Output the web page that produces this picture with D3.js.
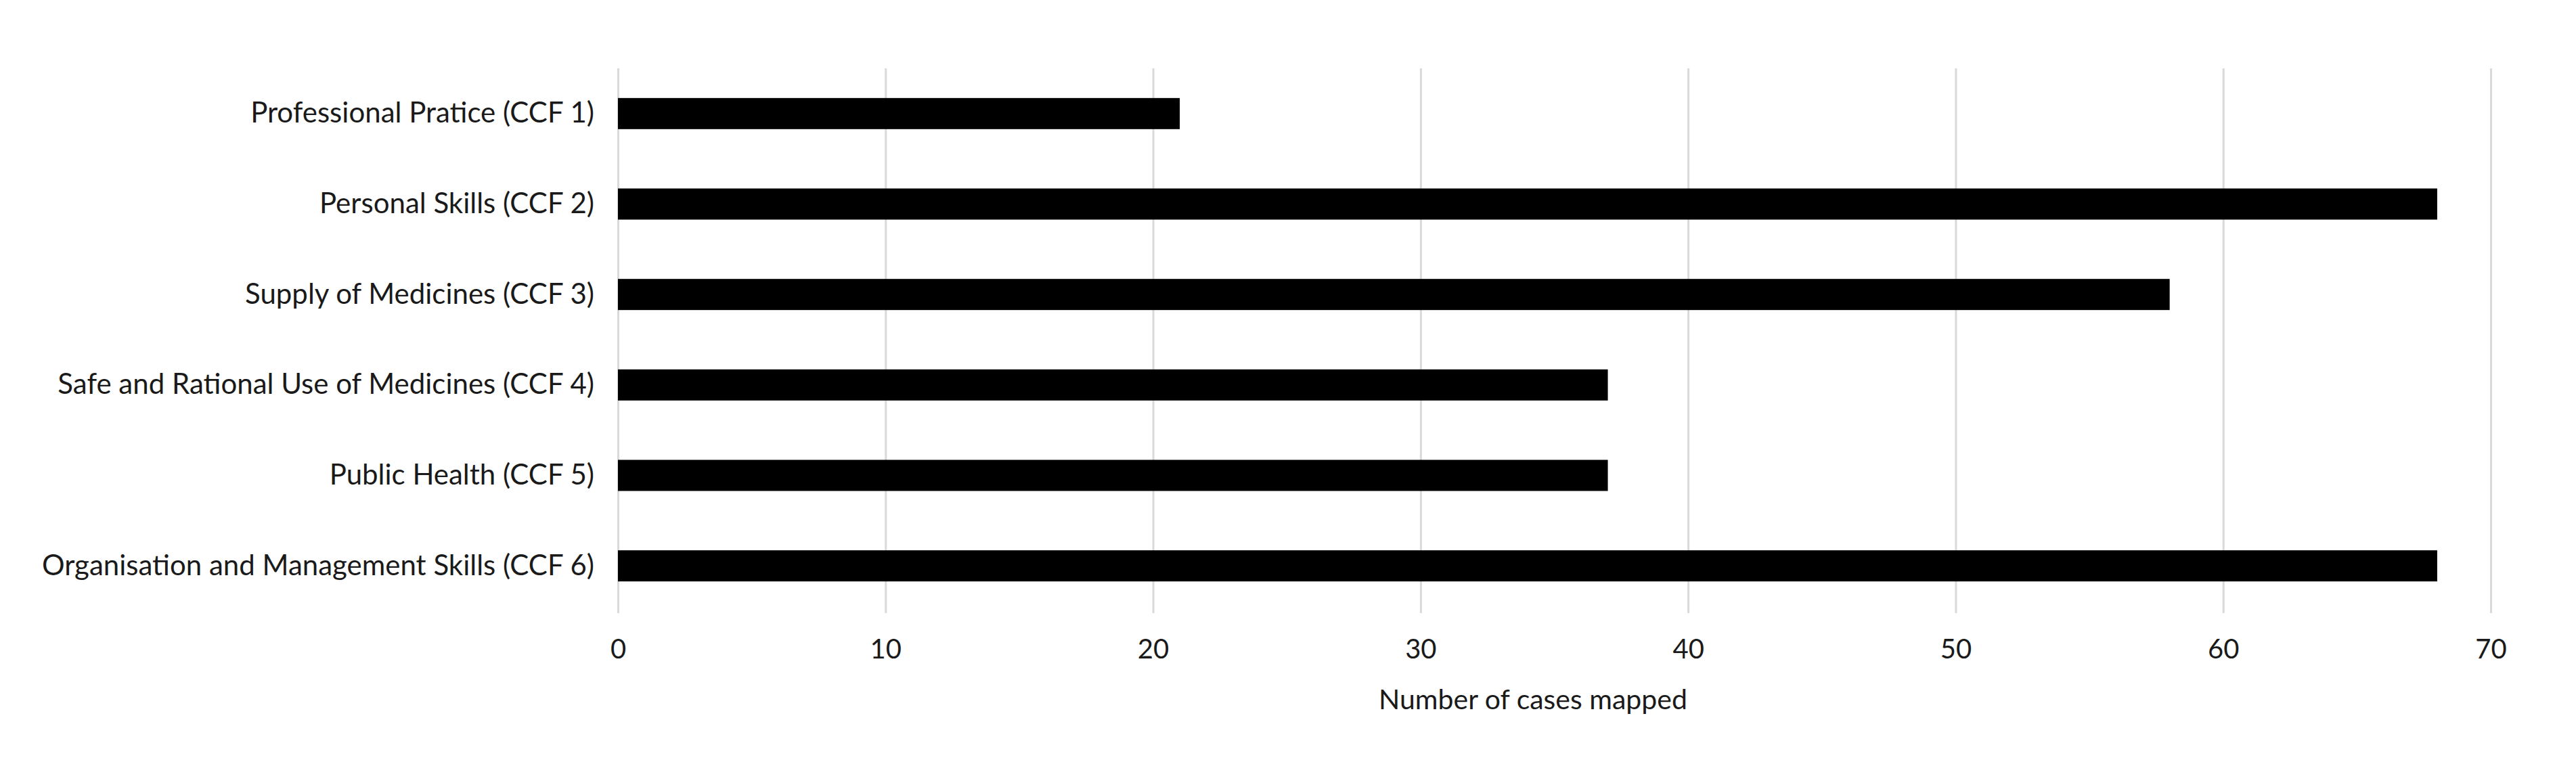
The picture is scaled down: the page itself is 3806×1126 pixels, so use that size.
<!DOCTYPE html>
<html>
<head>
<meta charset="utf-8">
<script src="https://cdn.jsdelivr.net/npm/d3@7"></script>
<style>
  html, body { margin: 0; padding: 0; background: #ffffff; }
  svg { display: block; }
  text { font-family: Lato, "Open Sans", sans-serif; fill: #1a1a1a; }
</style>
</head>
<body>
<svg id="chart" width="3806" height="1126"></svg>
<script>
// ---- data ----
const categories = [
  "Professional Pratice (CCF 1)",
  "Personal Skills (CCF 2)",
  "Supply of Medicines (CCF 3)",
  "Safe and Rational Use of Medicines (CCF 4)",
  "Public Health (CCF 5)",
  "Organisation and Management Skills (CCF 6)"
];
const values = [21, 68, 58, 37, 37, 68];
const xTicks = [0, 10, 20, 30, 40, 50, 60, 70];
const xTitle = "Number  of cases mapped";

// ---- layout ----
const W = 3806, H = 1126;
const plot = { left: 913, right: 3680, top: 101, bottom: 903 };
const svg = d3.select("#chart");
svg.append("rect").attr("width", W).attr("height", H).attr("fill", "#fff");

const x = d3.scaleLinear().domain([0, 70]).range([plot.left, plot.right]);
const y = d3.scaleBand().domain(categories).range([plot.top, plot.bottom])
  .paddingInner(0.656).paddingOuter(0.328);

// gridlines + x tick labels via axis
const gridBottom = 906;
const xAxis = d3.axisBottom(x).tickValues(xTicks).tickFormat(d3.format("d"))
  .tickSizeInner(-(gridBottom - plot.top)).tickSizeOuter(0).tickPadding(39);
const gx = svg.append("g").attr("transform", `translate(0,${gridBottom})`).call(xAxis);
gx.select(".domain").remove();
gx.selectAll(".tick line").attr("stroke", "#d9d9d9").attr("stroke-width", 3);
gx.selectAll(".tick text").attr("font-size", 40).attr("font-family", "Lato, sans-serif").attr("fill", "#1a1a1a");

// bars
svg.append("g").selectAll("rect").data(values).join("rect")
  .attr("x", x(0))
  .attr("y", (d, i) => y(categories[i]))
  .attr("width", d => x(d) - x(0))
  .attr("height", y.bandwidth())
  .attr("fill", "#000");

// category labels via axis
const yAxis = d3.axisLeft(y).tickSize(0).tickPadding(35);
const gy = svg.append("g").attr("transform", `translate(${plot.left},0)`).call(yAxis);
gy.select(".domain").remove();
gy.selectAll(".tick text").attr("font-size", 42).attr("font-family", "Lato, sans-serif").attr("fill", "#1a1a1a");

// axis title
svg.append("text").attr("x", 2265).attr("y", 1034).attr("dy", "0.35em")
  .attr("text-anchor", "middle").attr("font-size", 41).text(xTitle);
</script>
</body>
</html>
